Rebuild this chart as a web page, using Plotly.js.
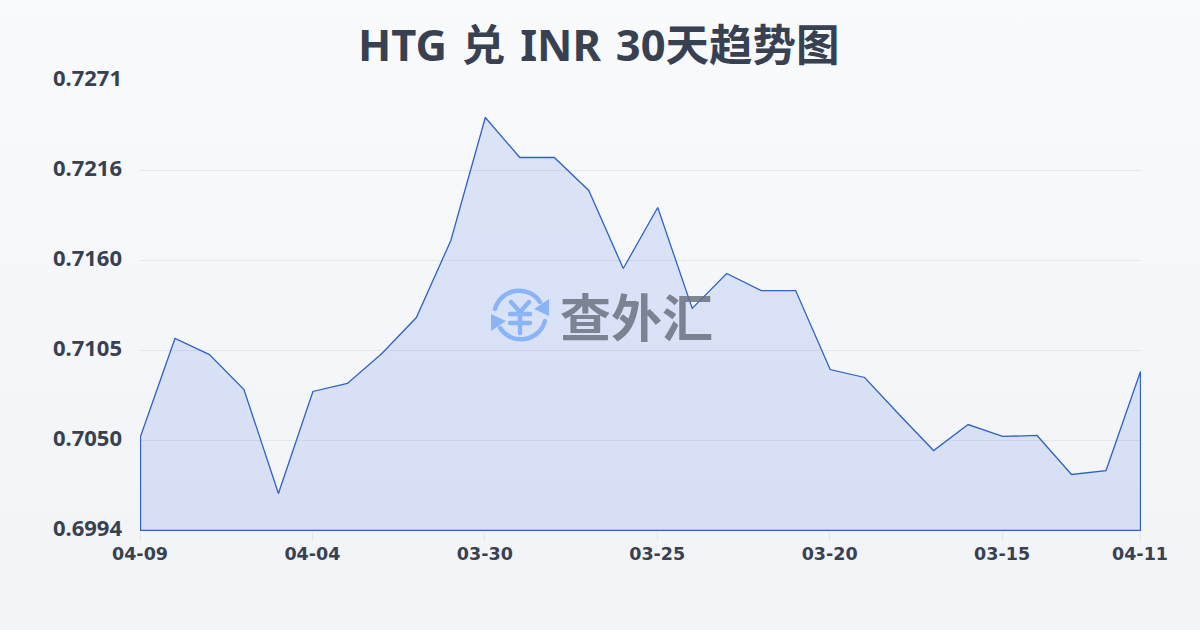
<!DOCTYPE html>
<html>
<head>
<meta charset="utf-8">
<script src="https://cdn.plot.ly/plotly-3.0.1.min.js"></script>
<style>
html,body{margin:0;padding:0;width:1200px;height:630px;overflow:hidden;background:linear-gradient(180deg,#f8fafc 0%,#f1f3f6 100%);}
#chart{width:1200px;height:630px;}
.gtitle{word-spacing:3.5px;}
.scatterlayer{transform:translate(0.5px,0.5px);}
</style>
</head>
<body>
<div id="chart"></div>
<script>
const titleText = 'HTG 兑 INR 30天趋势图';
const watermarkText = '查外汇';
const rates = [0.70519,0.71122,0.71023,0.70808,0.70168,0.70796,0.70845,0.71030,0.71251,0.71725,
  0.72482,0.72236,0.72236,0.72033,0.71553,0.71928,0.71307,0.71522,0.71417,0.71417,
  0.70931,0.70882,0.70654,0.70432,0.70592,0.70519,0.70525,0.70285,0.70309,0.70919];
const days = rates.map((_, i) => i);
const xTickVals = [0,5,10,15,20,25,29];
const xTickText = ['04-09','04-04','03-30','03-25','03-20','03-15','04-11'];
const yTickVals = [0.6994,0.70494,0.71048,0.71602,0.72156,0.7271];
const yTickText = ['0.6994','0.7050','0.7105','0.7160','0.7216','0.7271'];
const yMin = 0.6994, yMax = 0.7271;

const iconSvg = `<svg xmlns="http://www.w3.org/2000/svg" viewBox="0 0 60 60">
<g fill="none" stroke="#8ab4f8" stroke-width="4.4" stroke-linecap="round">
<path d="M5 24 A25 25 0 0 1 50 17"/>
<path d="M55 36 A25 25 0 0 1 10 43"/>
<path d="M21 17 L30 27 L39 17 M20 29 H40 M20 38 H40 M30 27 V48" stroke-width="4.4"/>
</g>
<path d="M59 14 L59 31 L44 24 Z" fill="#8ab4f8"/>
<path d="M1 46 L1 29 L16 36 Z" fill="#8ab4f8"/>
</svg>`;

const trace = {
  x: days.concat([days[days.length-1], days[0], days[0]]),
  y: rates.concat([yMin, yMin, rates[0]]),
  type: 'scatter',
  mode: 'lines',
  fill: 'toself',
  cliponaxis: false,
  fillcolor: 'rgba(59,110,225,0.15)',
  line: {color: '#2f62c4', width: 1.3, shape: 'linear', simplify: false},
  hoverinfo: 'skip',
  showlegend: false
};

const fontBold = '"Noto Sans","Noto Sans CJK SC",sans-serif';
const layout = {
  width: 1200, height: 630,
  paper_bgcolor: 'rgba(0,0,0,0)',
  plot_bgcolor: 'rgba(0,0,0,0)',
  margin: {l:140, r:59, t:80, b:99, pad:0},
  title: {
    text: '<b>'+titleText+'</b>',
    font: {family: fontBold, size: 43.5, color:'#374151'},
    x: 0.499, xanchor:'center', y: 0.928, yanchor:'middle'
  },
  xaxis: {
    range:[0,29.029], tickmode:'array', tickvals:xTickVals, ticktext:xTickText.map(t=>'<b>'+t+'</b>'),
    showgrid:false, zeroline:false, showline:false,
    ticks:'outside', ticklen:9, tickcolor:'#e5e7eb', tickwidth:1, ticklabelstandoff:-2,
    tickfont:{family:'"DejaVu Sans",sans-serif',size:17.5,color:'#374151'}, tickangle:0
  },
  yaxis: {
    range:[yMin-0.0000616,yMax], tickmode:'array', tickvals:yTickVals, ticktext:yTickText.map(t=>'<b>'+t+'</b>'),
    showgrid:true, gridcolor:'#e5e7eb', gridwidth:1, zeroline:false, showline:false,
    ticks:'', ticklabelstandoff:17, ticklabelshift:-2,
    tickfont:{family:fontBold,size:22,color:'#374151'}
  },
  images: [{
    source:'data:image/svg+xml;utf8,'+encodeURIComponent(iconSvg),
    xref:'paper', yref:'paper', x:(490-140)/1001, y:(531-285)/451,
    sizex:60/1001, sizey:60/451, xanchor:'left', yanchor:'top', layer:'above', sizing:'stretch'
  }],
  annotations: [{
    text:'<b>'+watermarkText+'</b>', xref:'paper', yref:'paper',
    x:(636-140)/1001, y:(531-315)/451, xanchor:'center', yanchor:'middle', showarrow:false,
    font:{family:'"Noto Sans CJK SC",sans-serif', size:51, color:'rgba(107,114,128,0.85)'}
  }]
};
Plotly.newPlot('chart',[trace],layout,{displayModeBar:false,staticPlot:true});
</script>
</body>
</html>
